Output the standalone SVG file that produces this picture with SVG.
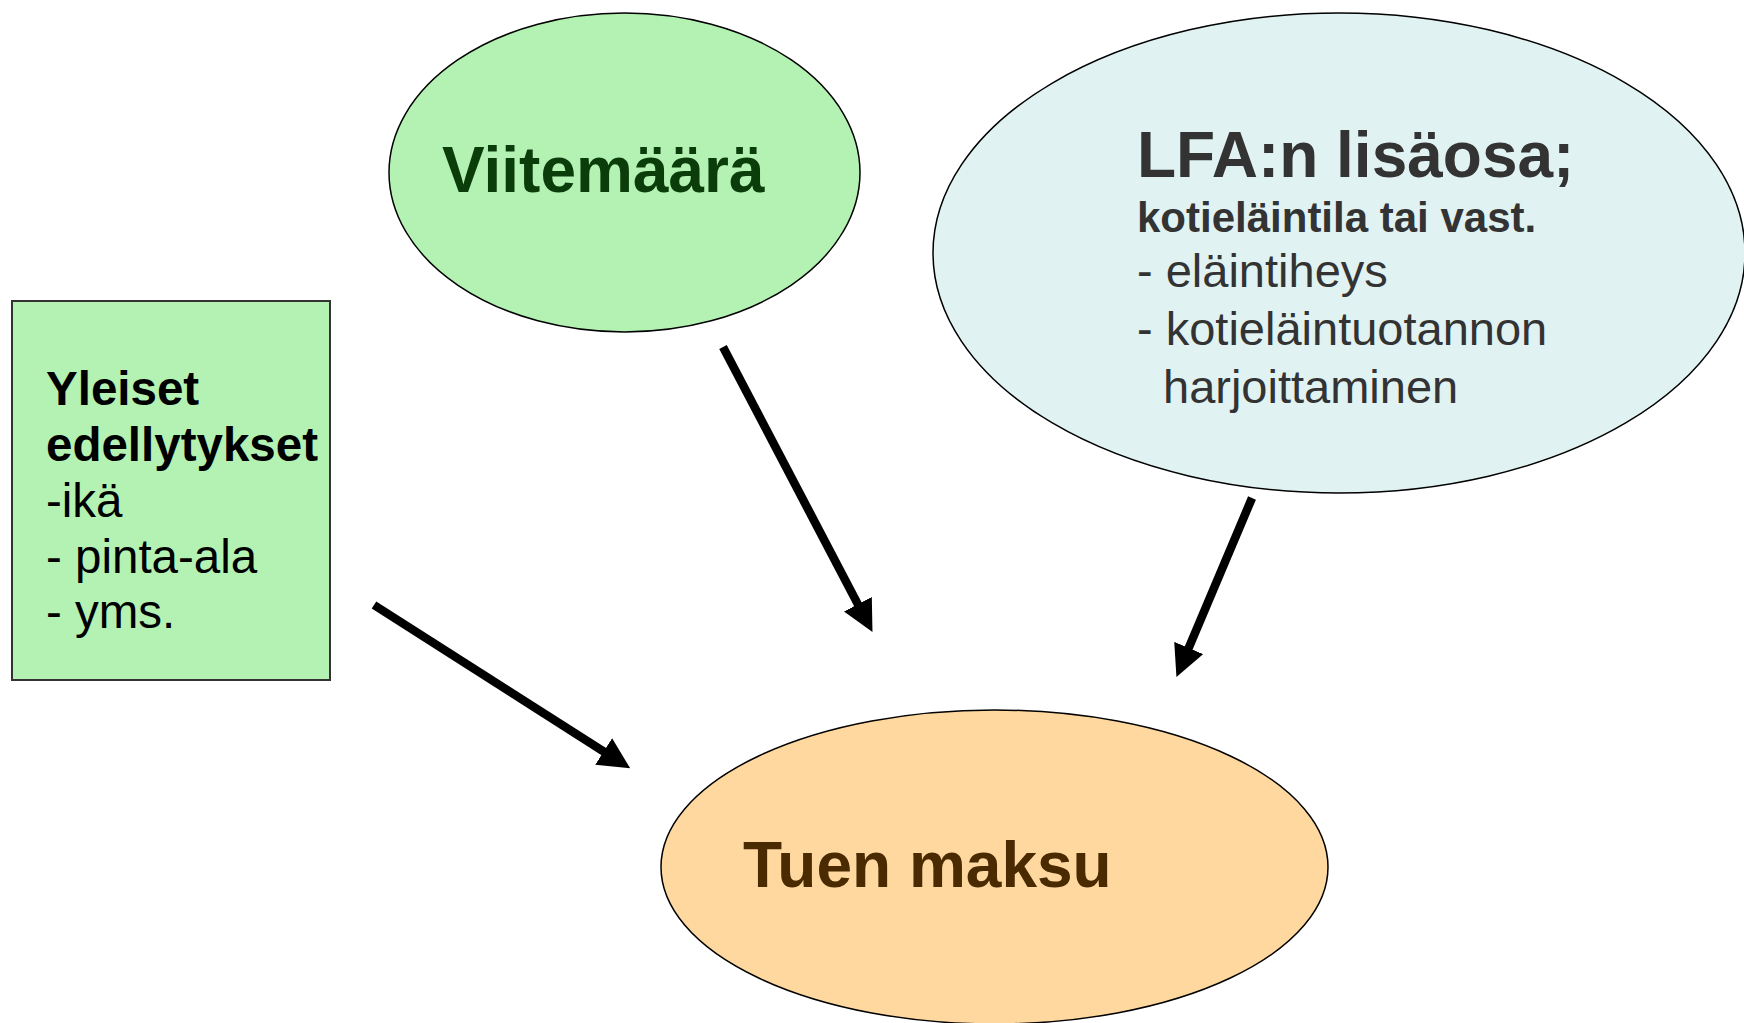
<svg xmlns="http://www.w3.org/2000/svg" width="1744" height="1023" viewBox="0 0 1744 1023">
  <style>
    text { font-family: "Liberation Sans", Arial, sans-serif; }
    .b { font-weight: bold; }
    .shape { stroke: #000; stroke-width: 1.5; }
    .green { fill: #b3f2b3; }
    .blue { fill: #e1f2f2; }
    .orange { fill: #ffd8a0; }
    .conn { stroke: #000; stroke-width: 8.5; fill: none; marker-end: url(#head); }
  </style>
  <defs>
    <marker id="head" viewBox="0 0 10 10" refX="0.5" refY="5" markerWidth="3.7" markerHeight="3.7" orient="auto" markerUnits="strokeWidth">
      <path d="M0,0 L10,5 L0,10 z" fill="#000"/>
    </marker>
  </defs>
  <rect width="1744" height="1023" fill="#fff"/>

  <g id="node-yleiset">
    <rect x="12" y="301" width="318" height="379" class="green" stroke="#333" stroke-width="2"/>
    <text x="46" y="405" font-size="47.5" class="b" fill="#000">Yleiset</text>
    <text x="46" y="461" font-size="47.5" class="b" fill="#000">edellytykset</text>
    <text x="46" y="517" font-size="47.5" fill="#000">-ikä</text>
    <text x="46" y="573" font-size="47.5" fill="#000">- pinta-ala</text>
    <text x="46" y="628" font-size="47.5" fill="#000">- yms.</text>
  </g>

  <g id="node-viitemaara">
    <ellipse cx="624.5" cy="172.5" rx="235.5" ry="159.5" class="shape green"/>
    <text x="442" y="192" font-size="64" class="b" fill="#0b3d0b">Viitemäärä</text>
  </g>

  <g id="node-lfa">
    <ellipse cx="1339" cy="253" rx="406" ry="240" class="shape blue"/>
    <text x="1137" y="177" font-size="64" class="b" fill="#333">LFA:n lisäosa;</text>
    <text x="1137" y="232" font-size="42" class="b" fill="#333">kotieläintila tai vast.</text>
    <text x="1137" y="287" font-size="47" fill="#333">- eläintiheys</text>
    <text x="1137" y="345" font-size="47" fill="#333">- kotieläintuotannon</text>
    <text x="1163" y="403" font-size="47" fill="#333">harjoittaminen</text>
  </g>

  <g id="node-tuen-maksu">
    <ellipse cx="994.5" cy="867" rx="333.5" ry="157" class="shape orange"/>
    <text x="743" y="887" font-size="64" class="b" fill="#4a2a00">Tuen maksu</text>
  </g>

  <g id="connectors">
    <line x1="374" y1="605" x2="605" y2="752.3" class="conn"/>
    <line x1="723" y1="347" x2="858.6" y2="605.6" class="conn"/>
    <line x1="1252" y1="498" x2="1188.1" y2="649.4" class="conn"/>
  </g>
</svg>
